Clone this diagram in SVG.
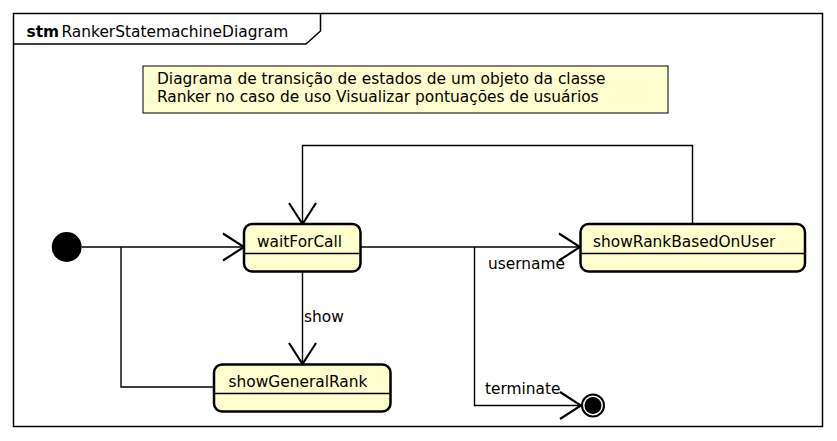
<svg xmlns="http://www.w3.org/2000/svg" width="837" height="441" viewBox="0 0 837 441">
<style>
text{font-family:"DejaVu Sans","Liberation Sans",sans-serif;font-size:15.4px;fill:#000}
.frame{fill:none;stroke:#000;stroke-width:1.5}
.state rect{fill:#FEFECE;stroke:#000;stroke-width:2.5}
.state line{stroke:#000;stroke-width:1.5}
.note{fill:#FEFECE;stroke:#000;stroke-width:1}
.conn path{fill:none;stroke:#000;stroke-width:1.4}
</style>
<defs>
<marker id="arr" markerUnits="userSpaceOnUse" markerWidth="30" markerHeight="30" viewBox="-16 -10 18 20" refX="0" refY="0" orient="auto" overflow="visible">
<path d="M-14,-9 L0,0 L-14,9" fill="none" stroke="#000" stroke-width="1.4"/>
</marker>
</defs>
<rect width="837" height="441" fill="#fff"/>
<g id="frame">
<rect class="frame" x="13.5" y="13.5" width="809" height="413"/>
<polyline class="frame" points="13.5,44 306,44 320.5,31 320.5,13.5"/>
<text x="26.5" y="36.5"><tspan font-weight="bold">stm</tspan><tspan x="61.5">RankerStatemachineDiagram</tspan></text>
</g>
<g id="note">
<rect class="note" x="143" y="66" width="525" height="47"/>
<text x="157" y="84">Diagrama de transição de estados de um objeto da classe</text>
<text x="157" y="101.5">Ranker no caso de uso Visualizar pontuações de usuários</text>
</g>
<g id="conns" class="conn">
<path d="M81.7,247 H244" marker-end="url(#arr)"/>
<path d="M214,387 H121 V247"/>
<path d="M302.5,271.5 V364" marker-end="url(#arr)"/>
<path d="M360.5,247 H580" marker-end="url(#arr)"/>
<path d="M474.5,247 V405.5 H581" marker-end="url(#arr)"/>
<path d="M692.5,224 V145.5 H302.5 V224" marker-end="url(#arr)"/>
<text x="304" y="322">show</text>
<text x="488" y="269">username</text>
<text x="485" y="394">terminate</text>
</g>
<g id="initial">
<circle cx="66.7" cy="247" r="15" fill="#000"/>
</g>
<g id="waitForCall" class="state">
<rect x="244" y="224" width="116.5" height="47.5" rx="8"/>
<line x1="244" y1="253.5" x2="360.5" y2="253.5"/>
<text x="257" y="247">waitForCall</text>
</g>
<g id="showRankBasedOnUser" class="state">
<rect x="580.5" y="224" width="224.5" height="47.5" rx="8"/>
<line x1="580.5" y1="253.5" x2="805" y2="253.5"/>
<text x="593" y="247">showRankBasedOnUser</text>
</g>
<g id="showGeneralRank" class="state">
<rect x="214" y="364.5" width="176.5" height="47" rx="8"/>
<line x1="214" y1="393.5" x2="390.5" y2="393.5"/>
<text x="228.5" y="387">showGeneralRank</text>
</g>
<g id="final">
<circle cx="593" cy="405.5" r="11" fill="#fff" stroke="#000" stroke-width="2"/>
<circle cx="593" cy="405.5" r="8.5" fill="#000"/>
</g>
</svg>
